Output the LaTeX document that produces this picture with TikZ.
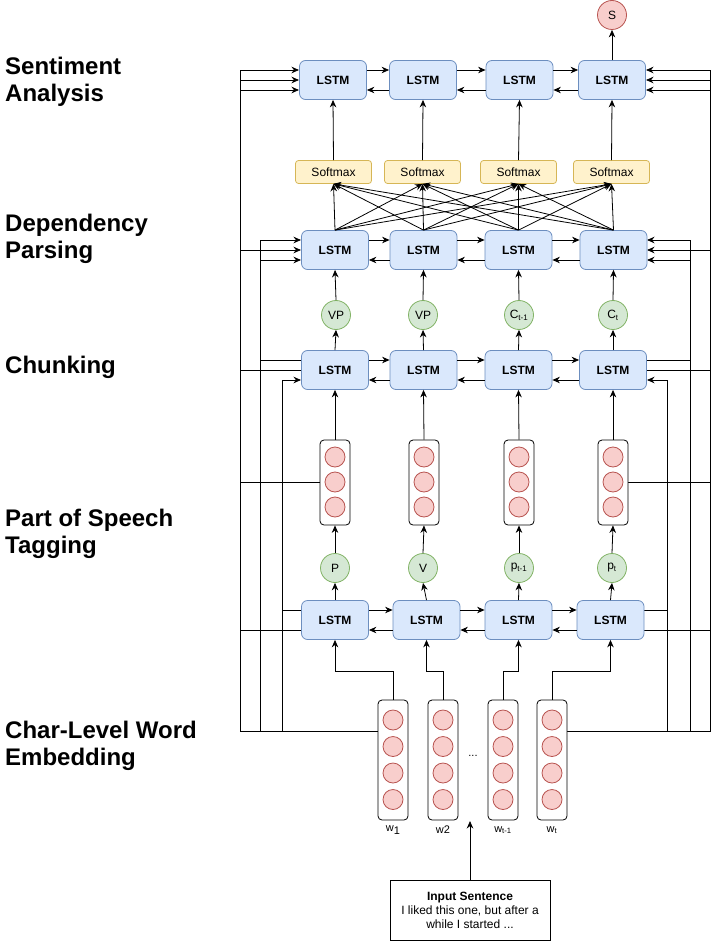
\documentclass[tikz,border=0pt]{standalone}
\usepackage{fontspec}
\setmainfont{Liberation Sans}
\usetikzlibrary{arrows.meta,calc}
\definecolor{lstmfill}{HTML}{DAE8FC}
\definecolor{lstmdraw}{HTML}{6C8EBF}
\definecolor{redfill}{HTML}{F8CECC}
\definecolor{reddraw}{HTML}{B85450}
\definecolor{greenfill}{HTML}{D5E8D4}
\definecolor{greendraw}{HTML}{82B366}
\definecolor{yelfill}{HTML}{FFF2CC}
\definecolor{yeldraw}{HTML}{D6B656}
\begin{document}
\begin{tikzpicture}[x=1pt,y=-1pt,
  lstm/.style={draw=lstmdraw, fill=lstmfill, rounded corners=6pt, minimum width=67pt, minimum height=39pt, inner sep=0pt, line width=0.8pt, font=\fontsize{12}{14}\selectfont\bfseries},
  smax/.style={draw=yeldraw, fill=yelfill, rounded corners=3pt, minimum width=76pt, minimum height=23pt, inner sep=0pt, line width=0.8pt, font=\fontsize{12}{14}\selectfont},
  gcirc/.style={circle, draw=greendraw, fill=greenfill, minimum size=29pt, inner sep=0pt, line width=0.8pt, font=\fontsize{12}{14}\selectfont},
  scirc/.style={circle, draw=reddraw, fill=redfill, minimum size=29pt, inner sep=0pt, line width=0.8pt, font=\fontsize{12}{14}\selectfont},
  rcirc/.style={circle, draw=reddraw, fill=redfill, minimum size=20pt, inner sep=0pt, line width=0.8pt},
  vecbox/.style={draw, fill=white, rounded corners=4pt, minimum width=30pt, inner sep=0pt, line width=0.8pt},
  arr/.style={-{Stealth[length=7.5pt,width=6.5pt]}, line width=0.8pt},
  ln/.style={line width=0.8pt},
  heading/.style={font=\fontsize{24}{27}\selectfont\bfseries, anchor=base west, inner sep=0pt},
  wlab/.style={font=\fontsize{11}{13}\selectfont, inner sep=0pt}
]
\useasboundingbox (0,0) rectangle (719,941);

% headings
\node[heading] (h1) at (5,75) {Sentiment};
\node[heading] (h2) at (5,102) {Analysis};
\node[heading] (h3) at (5,231) {Dependency};
\node[heading] (h4) at (5,258) {Parsing};
\node[heading] (h5) at (5,373) {Chunking};
\node[heading] (h6) at (5,526) {Part of Speech};
\node[heading] (h7) at (5,553) {Tagging};
\node[heading] (h8) at (5,738) {Char-Level Word};
\node[heading] (h9) at (5,765) {Embedding};

% bus lines (drawn first, below nodes)
% left
\draw[arr] (378,731) coordinate (e1o) -| (240,70) -- (299,70);
\draw[arr] (240,80) -- (299,80);
\draw[arr] (240,90) -- (299,90);
\draw[arr] (240,250) -- (301,250);
\draw[ln] (240,370) -- (301,370);
\draw[ln] (240,482.5) -- (320,482.5);
\draw[ln] (240,630) -- (301,630);
\draw[arr] (260,731) |- (301,240);
\draw[arr] (260,260) -- (301,260);
\draw[ln] (260,360) -- (301,360);
\draw[arr] (282,731) |- (301,380);
\draw[ln] (282,610) -- (301,610);
% right
\draw[arr] (567,731) -| (710,70) -- (646,70);
\draw[arr] (710,80) -- (646,80);
\draw[arr] (710,90) -- (646,90);
\draw[arr] (710,250) -- (647,250);
\draw[ln] (710,370) -- (647,370);
\draw[ln] (710,482.5) -- (628,482.5);
\draw[ln] (710,630) -- (644,630);
\draw[arr] (690,731) |- (647,240);
\draw[arr] (690,260) -- (647,260);
\draw[ln] (690,360) -- (647,360);
\draw[arr] (667,731) |- (647,380);
\draw[ln] (667,610) -- (644,610);

% sentiment LSTM row
\node[lstm] (sa1) at (333,80) {LSTM};
\node[lstm] (sa2) at (423,80) {LSTM};
\node[lstm] (sa3) at (519.5,80) {LSTM};
\node[lstm] (sa4) at (612,80) {LSTM};
\node[scirc] (s) at (612,15) {S};

% softmax
\node[smax] (sm1) at (333.5,172) {Softmax};
\node[smax] (sm2) at (422.5,172) {Softmax};
\node[smax] (sm3) at (518.5,172) {Softmax};
\node[smax] (sm4) at (611.5,172) {Softmax};

% dependency LSTM row
\node[lstm] (dp1) at (335,250) {LSTM};
\node[lstm] (dp2) at (423.5,250) {LSTM};
\node[lstm] (dp3) at (518.5,250) {LSTM};
\node[lstm] (dp4) at (613.5,250) {LSTM};

% chunk circles
\node[gcirc] (ch1) at (336,315) {VP};
\node[gcirc] (ch2) at (423,315) {VP};
\node[gcirc] (ch3) at (519,315) {C\textsubscript{t-1}};
\node[gcirc] (ch4) at (613,315) {C\textsubscript{t}};

% chunking LSTM row
\node[lstm] (ck1) at (335,370) {LSTM};
\node[lstm] (ck2) at (423.5,370) {LSTM};
\node[lstm] (ck3) at (518.5,370) {LSTM};
\node[lstm] (ck4) at (613,370) {LSTM};

% POS vector boxes
\foreach \n/\x in {1/335,2/424,3/519,4/613}{
  \node[vecbox, minimum height=85pt] (pb\n) at (\x,482.5) {};
  \node[rcirc] (pb\n a) at (\x,457) {};
  \node[rcirc] (pb\n b) at (\x,482) {};
  \node[rcirc] (pb\n c) at (\x,507) {};
}

% POS circles
\node[gcirc] (pc1) at (335,568) {P};
\node[gcirc] (pc2) at (423,568) {V};
\node[gcirc] (pc3) at (519,568) {p\textsubscript{t-1}};
\node[gcirc] (pc4) at (612,568) {p\textsubscript{t}};

% POS LSTM row
\node[lstm] (ps1) at (335,620) {LSTM};
\node[lstm] (ps2) at (426.5,620) {LSTM};
\node[lstm] (ps3) at (518.5,620) {LSTM};
\node[lstm] (ps4) at (610.5,620) {LSTM};

% embedding boxes
\foreach \n/\x in {1/393,2/443,3/503,4/552}{
  \node[vecbox, minimum height=120pt] (eb\n) at (\x,760) {};
  \node[rcirc] (eb\n a) at (\x,720) {};
  \node[rcirc] (eb\n b) at (\x,746.5) {};
  \node[rcirc] (eb\n c) at (\x,773) {};
  \node[rcirc] (eb\n d) at (\x,799.5) {};
}
\node[font=\fontsize{11}{13}\selectfont] (dots) at (473,756) {...};
\node[wlab] (w1) at (393,830) {w\raisebox{-2.5pt}{\fontsize{11}{13}\selectfont 1}};
\node[wlab] (w2) at (443,830) {w2};
\node[wlab] (w3) at (503,830) {w\textsubscript{t-1}};
\node[wlab] (w4) at (552,830) {w\textsubscript{t}};

% input sentence
\node[draw, line width=0.8pt, minimum width=160pt, minimum height=60pt, align=center, inner sep=0pt, font=\fontsize{12}{14}\selectfont] (in) at (470,910) {\textbf{Input Sentence}\\I liked this one, but after a\\while I started ...};
\coordinate (intip) at (470,821);
\draw[arr] (in.north) -- (intip);

% horizontal arrows between LSTMs
\foreach \r in {sa,dp,ck,ps}{
  \foreach \i/\j in {1/2,2/3,3/4}{
    \draw[arr] ([yshift=10pt]\r\i.east) -- ([yshift=10pt]\r\j.west);
    \draw[arr] ([yshift=-10pt]\r\j.west) -- ([yshift=-10pt]\r\i.east);
  }
}

% vertical arrows
\draw[arr] (sa4.north) -- (s.south);
\foreach \i in {1,...,4}{
  \draw[arr] (sm\i.north) -- (sa\i.south);
  \foreach \j in {1,...,4}{
    \draw[arr] (dp\i.north) -- (sm\j.south);
  }
  \draw[arr] (ch\i.north) -- (dp\i.south);
  \draw[arr] (ck\i.north) -- (ch\i.south);
  \draw[arr] (pb\i.north) -- (ck\i.south);
  \draw[arr] (pc\i.north) -- (pb\i.south);
  \draw[arr] (ps\i.north) -- (pc\i.south);
  \draw[arr] (eb\i.north) -- ++(0,-28) -| (ps\i.south);
}
\end{tikzpicture}
\end{document}
